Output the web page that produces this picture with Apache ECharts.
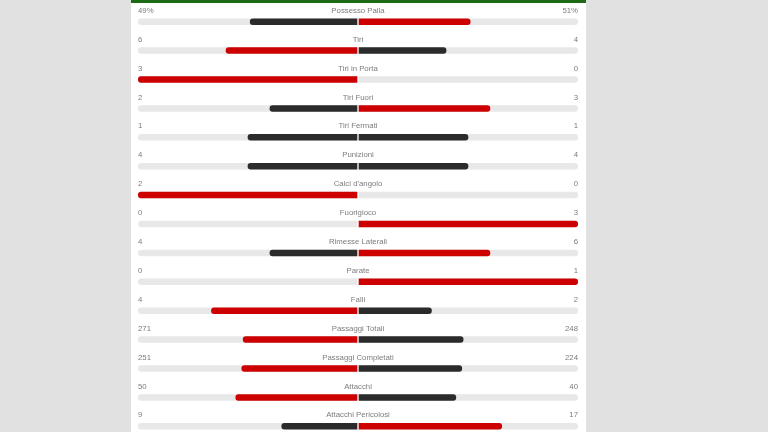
<!DOCTYPE html>
<html>
<head>
<meta charset="utf-8">
<script src="https://cdn.jsdelivr.net/npm/echarts@6/dist/echarts.min.js"></script>
<style>
  html, body { margin: 0; padding: 0; background: #e1e1e1; }
  #chart { width: 768px; height: 432px; }
</style>
</head>
<body>
<div id="chart"></div>
<script>
// match stats, home (left) vs away (right)
var statNames = [
  "Possesso Palla", "Tiri", "Tiri in Porta", "Tiri Fuori", "Tiri Fermati",
  "Punizioni", "Calci d'angolo", "Fuorigioco", "Rimesse Laterali", "Parate",
  "Falli", "Passaggi Totali", "Passaggi Completati", "Attacchi", "Attacchi Pericolosi"
];
var homeVals = [49, 6, 3, 2, 1, 4, 2, 0, 4, 0, 4, 271, 251, 50, 9];
var awayVals = [51, 4, 0, 3, 1, 4, 0, 3, 6, 1, 2, 248, 224, 40, 17];
var units = ["%", "", "", "", "", "", "", "", "", "", "", "", "", "", ""];

var RED = "#cc0000";
var DARK = "#2b2b2b";
var TRACK = "#e8e8e8";
var TEXT = "#5a5a5a";

// share of each side, bar colored red for the side that leads
function side(mine, other) {
  return mine.map(function (v, i) {
    var tot = v + other[i];
    return {
      value: tot ? v / tot : 0,
      itemStyle: { color: v > other[i] ? RED : DARK }
    };
  });
}
var ones = statNames.map(function () { return 1; });

var rowTop = 7.25, rowH = 28.9;
var gridH = rowH * statNames.length;

function yAx(i) {
  return { type: "category", gridIndex: i, data: statNames, inverse: true, show: false };
}
function textSeries(xVal, align, fmt) {
  return {
    type: "scatter",
    xAxisIndex: 2,
    yAxisIndex: 2,
    symbolSize: 0,
    silent: true,
    data: statNames.map(function (n, i) { return [xVal, i]; }),
    label: {
      show: true,
      position: "inside",
      align: align,
      verticalAlign: "middle",
      offset: [0, -11],
      color: TEXT,
      fontFamily: "Liberation Sans",
      fontSize: 7.8,
      formatter: function (p) { return fmt(p.dataIndex); }
    }
  };
}

var myChart = echarts.init(document.getElementById("chart"));
myChart.setOption({
  backgroundColor: "#e1e1e1",
  animation: false,
  graphic: [
    { type: "rect", shape: { x: 131, y: 0, width: 455, height: 432 }, style: { fill: "#fff" }, z: -10 },
    { type: "rect", shape: { x: 131, y: 0, width: 455, height: 3 }, style: { fill: "#1c6b14" }, z: -9 }
  ],
  grid: [
    { left: 138, top: rowTop, width: 219.3, height: gridH, outerBoundsMode: "none" },
    { left: 358.7, top: rowTop, width: 219.3, height: gridH, outerBoundsMode: "none" },
    { left: 138, top: rowTop, width: 440, height: gridH, outerBoundsMode: "none" }
  ],
  xAxis: [
    { type: "value", gridIndex: 0, min: 0, max: 1, inverse: true, show: false },
    { type: "value", gridIndex: 1, min: 0, max: 1, show: false },
    { type: "value", gridIndex: 2, min: -1, max: 1, show: false }
  ],
  yAxis: [yAx(0), yAx(1), yAx(2)],
  series: [
    {
      type: "bar", xAxisIndex: 0, yAxisIndex: 0, barWidth: 6.5, silent: true,
      itemStyle: { color: TRACK, borderRadius: [3, 0, 0, 3] }, data: ones
    },
    {
      type: "bar", xAxisIndex: 0, yAxisIndex: 0, barWidth: 6.5, barGap: "-100%", silent: true,
      itemStyle: { borderRadius: [3, 0, 0, 3] }, data: side(homeVals, awayVals)
    },
    {
      type: "bar", xAxisIndex: 1, yAxisIndex: 1, barWidth: 6.5, silent: true,
      itemStyle: { color: TRACK, borderRadius: [0, 3, 3, 0] }, data: ones
    },
    {
      type: "bar", xAxisIndex: 1, yAxisIndex: 1, barWidth: 6.5, barGap: "-100%", silent: true,
      itemStyle: { borderRadius: [0, 3, 3, 0] }, data: side(awayVals, homeVals)
    },
    textSeries(-1, "left", function (i) { return homeVals[i] + units[i]; }),
    textSeries(0, "center", function (i) { return statNames[i]; }),
    textSeries(1, "right", function (i) { return awayVals[i] + units[i]; })
  ]
});
</script>
</body>
</html>
